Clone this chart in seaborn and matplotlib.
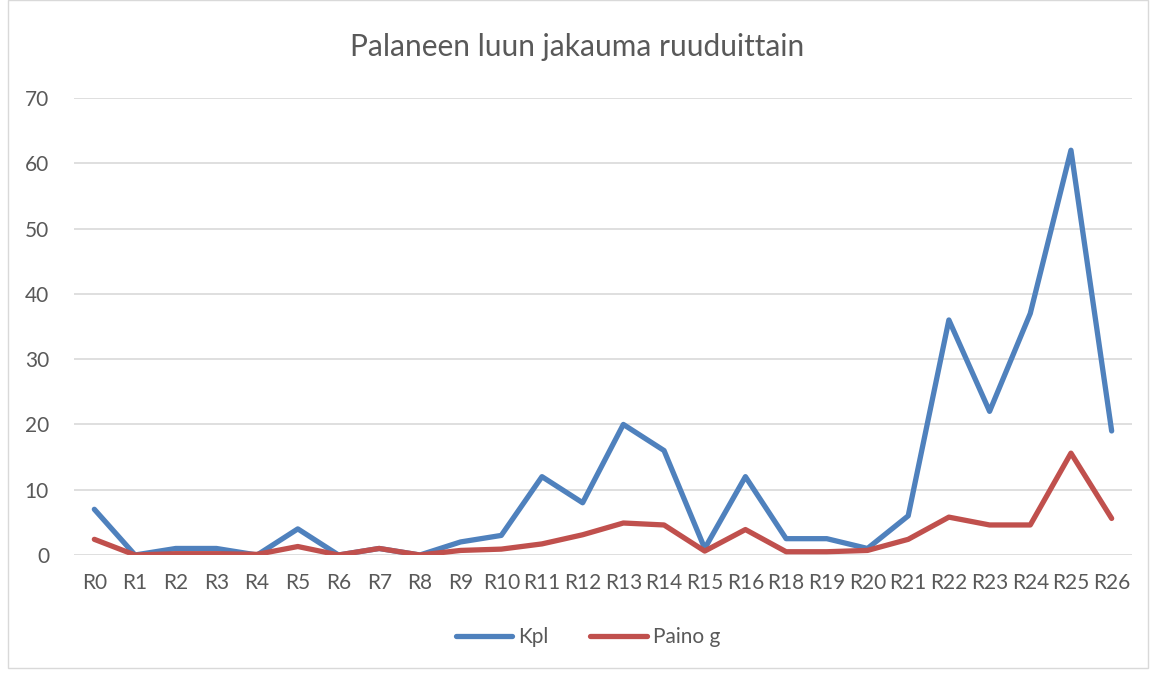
import matplotlib
matplotlib.use('Agg')
import matplotlib.pyplot as plt
import seaborn as sns
import pandas as pd
from matplotlib.patches import Rectangle

ruudut = ['R0', 'R1', 'R2', 'R3', 'R4', 'R5', 'R6', 'R7', 'R8', 'R9', 'R10',
          'R11', 'R12', 'R13', 'R14', 'R15', 'R16', 'R18', 'R19', 'R20',
          'R21', 'R22', 'R23', 'R24', 'R25', 'R26']
kpl = [7, 0, 1, 1, 0, 4, 0, 1, 0, 2, 3, 12, 8, 20, 16, 1, 12, 2.5, 2.5, 1,
       6, 36, 22, 37, 62, 19]
paino = [2.4, 0, 0.2, 0.2, 0.1, 1.3, 0, 1.0, 0, 0.7, 0.9, 1.7, 3.1, 4.9, 4.6,
         0.6, 3.9, 0.5, 0.5, 0.7, 2.4, 5.8, 4.6, 4.6, 15.6, 5.6]

df = pd.concat([
    pd.DataFrame({'ruutu': ruudut, 'arvo': kpl, 'sarja': 'Kpl'}),
    pd.DataFrame({'ruutu': ruudut, 'arvo': paino, 'sarja': 'Paino g'}),
])

sns.set_style('white')
plt.rcParams['font.family'] = ['Lato', 'DejaVu Sans']
grey = '#595959'

fig = plt.figure(figsize=(11.54, 6.73), dpi=100)
ax = fig.add_axes([74 / 1154, 1 - 555 / 673, (1132 - 74) / 1154, (555 - 98) / 673])

sns.lineplot(data=df, x='ruutu', y='arvo', hue='sarja', sort=False,
             palette={'Kpl': '#4F81BD', 'Paino g': '#C0504D'},
             linewidth=3.8, ax=ax, legend=False)

ax.set_xlim(-0.5, len(ruudut) - 0.5)
ax.set_ylim(0, 70)
ax.set_yticks(range(0, 71, 10))
ax.grid(axis='y', color='#D9D9D9', linewidth=1.2)
ax.set_axisbelow(True)
for s in ax.spines.values():
    s.set_visible(False)
ax.set_xlabel('')
ax.set_ylabel('')
ax.tick_params(axis='both', colors=grey, labelsize=15, length=0)
ax.tick_params(axis='x', pad=13)
ax.tick_params(axis='y', pad=18)

fig.text(0.5, 1 - 47 / 673, 'Palaneen luun jakauma ruuduittain', ha='center',
         va='center', fontsize=21.5, color=grey)

handles = [plt.Line2D([], [], color='#4F81BD', lw=3.8, solid_capstyle='round'),
           plt.Line2D([], [], color='#C0504D', lw=3.8, solid_capstyle='round')]
fig.legend(handles, ['Kpl', 'Paino g'], loc='center', ncol=2,
           bbox_to_anchor=(588 / 1154, 1 - 637 / 673), frameon=False,
           fontsize=15, labelcolor=grey, handlelength=2.7, handletextpad=0.3,
           columnspacing=2.0)

fig.patches.append(Rectangle((8 / 1154, 5 / 673), 1140 / 1154, 668 / 673,
                             transform=fig.transFigure, fill=False,
                             edgecolor='#D9D9D9', linewidth=1))

fig.savefig('out.png', dpi=100)
